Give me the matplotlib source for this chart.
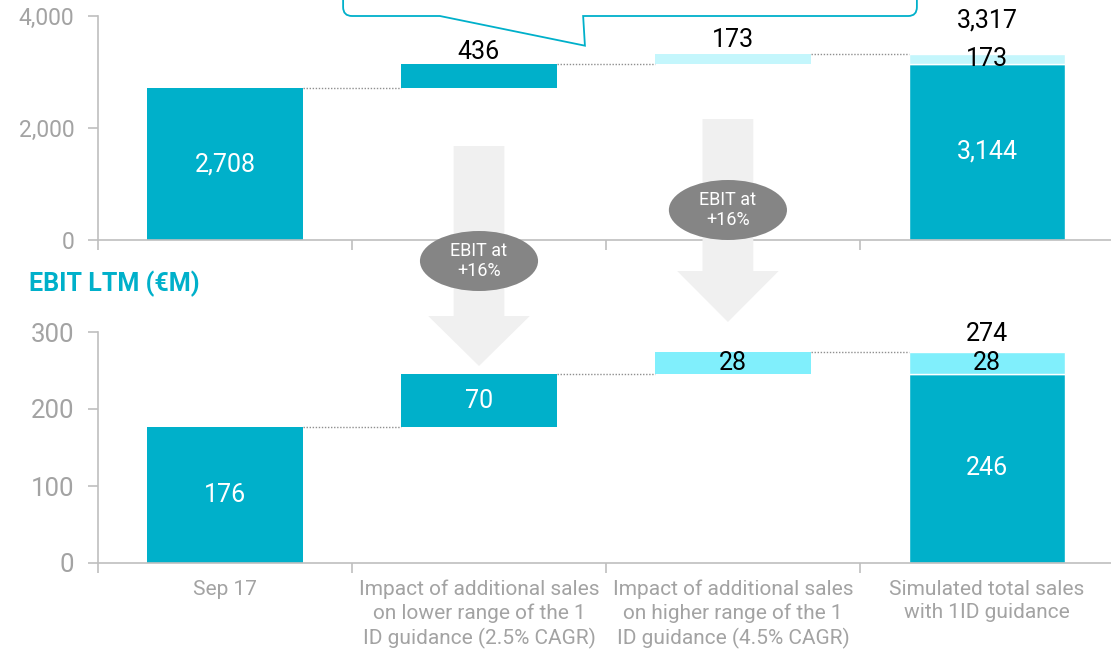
import matplotlib
matplotlib.use('Agg')
import matplotlib.pyplot as plt
from matplotlib.patches import Polygon, Ellipse, PathPatch
from matplotlib.path import Path
from matplotlib.transforms import blended_transform_factory

plt.rcParams['font.family'] = ['Roboto', 'DejaVu Sans']

categories = ['Sep 17',
              'Impact of additional sales\non lower range of the 1\nID guidance (2.5% CAGR)',
              'Impact of additional sales\non higher range of the 1\nID guidance (4.5% CAGR)',
              'Simulated total sales\nwith 1ID guidance']
sales_steps = [2708, 436, 173]
ebit_steps = [176, 70, 28]
sales_ticks = [0, 2000, 4000]
ebit_ticks = [0, 100, 200, 300]
ebit_title = 'EBIT LTM (€M)'
arrow_label = 'EBIT at\n+16%'

TEAL = '#00b0ca'
SALES_LIGHT = '#c4f6fc'
EBIT_LIGHT = '#80effc'
AXIS_GREY = '#bfbfbf'
TEXT_GREY = '#a3a3a3'
BAR_W = 0.614

W, H = 1111, 651
fig = plt.figure(figsize=(W / 100, H / 100), dpi=100)


def px_box(left, top, bottom, right=1114):
    """Axes rectangle from pixel edges (origin top left)."""
    return [left / W, 1 - bottom / H, (right - left) / W, (bottom - top) / H]


def fmt(v):
    return f'{v:,}'


def style_axes(ax, ticks, tick_size):
    ax.set_xlim(-0.5, 3.5)
    ax.set_ylim(ticks[0], ticks[-1])
    for side in ('top', 'right'):
        ax.spines[side].set_visible(False)
    for side in ('left', 'bottom'):
        ax.spines[side].set_color(AXIS_GREY)
        ax.spines[side].set_linewidth(1.2)
    ax.set_yticks(ticks)
    ax.set_yticklabels([fmt(t) for t in ticks])
    ax.tick_params(axis='y', length=7, width=1.2, color=AXIS_GREY,
                   labelcolor=TEXT_GREY, labelsize=tick_size, pad=10)
    ax.set_xticks([-0.5, 0.5, 1.5, 2.5])
    ax.set_xticklabels([])
    ax.tick_params(axis='x', which='major', length=7, width=1.2,
                   color=AXIS_GREY)


def draw_waterfall(ax, steps, light, opts):
    base, low, high = steps
    mid = base + low
    total = mid + high

    ax.bar(0, base, BAR_W, color=TEAL)
    ax.bar(1, low, BAR_W, bottom=base, color=TEAL)
    ax.bar(2, high, BAR_W, bottom=mid, color=light)
    ax.bar(3, mid, BAR_W, color=TEAL, edgecolor='white', linewidth=1)
    ax.bar(3, high, BAR_W, bottom=mid, color=light,
           edgecolor='white', linewidth=1)

    # dotted connectors between bars
    for i, level in enumerate([base, mid, total]):
        ax.plot([i + BAR_W / 2, i + 1 - BAR_W / 2], [level, level],
                ls=(0, (1, 1.2)), color='#8f8f8f', lw=1)

    size = 18
    ax.text(0, base / 2, fmt(base), color='white', ha='center',
            va='center', size=size)
    if opts['low_inside']:
        ax.text(1, base + low / 2, fmt(low), color='white', ha='center',
                va='center', size=size)
    else:
        ax.annotate(fmt(low), (1, mid), xytext=(0, opts['low_off']),
                    textcoords='offset pixels', ha='center', va='center',
                    size=size)
    if opts['high_inside']:
        ax.text(2, mid + high / 2, fmt(high), ha='center', va='center',
                size=size)
    else:
        ax.annotate(fmt(high), (2, total), xytext=(0, opts['high_off']),
                    textcoords='offset pixels', ha='center', va='center',
                    size=size)
    ax.text(3, mid / 2, fmt(mid), color='white', ha='center',
            va='center', size=size)
    ax.text(3, mid + high / 2, fmt(high), ha='center', va='center',
            size=size)
    ax.annotate(fmt(total), (3, total), xytext=(0, opts['total_off']),
                textcoords='offset pixels', ha='center', va='center',
                size=size)


ax_top = fig.add_axes(px_box(98, 16, 240))
ax_bot = fig.add_axes(px_box(98, 332, 563))

style_axes(ax_top, sales_ticks, 16.5)
style_axes(ax_bot, ebit_ticks, 18.5)

draw_waterfall(ax_top, sales_steps, SALES_LIGHT,
               dict(low_inside=False, high_inside=False,
                    low_off=12, high_off=14, total_off=34))
draw_waterfall(ax_bot, ebit_steps, EBIT_LIGHT,
               dict(low_inside=True, high_inside=True, total_off=18))

# category labels on the lower chart only
ax_bot.set_xticks(range(len(categories)), minor=True)
ax_bot.set_xticklabels(categories, minor=True, linespacing=1.28)
ax_bot.tick_params(axis='x', which='minor', length=0, pad=12,
                   labelsize=15, labelcolor=TEXT_GREY)

fig.text(29 / W, 1 - 284 / H, ebit_title, color=TEAL, size=18,
         weight='bold', ha='left', va='center')

# big grey arrows with the EBIT bubbles
trans = blended_transform_factory(ax_bot.transData, fig.transFigure)
for cx, top, head, tip, ey in [(1.0, 146, 316, 366, 261),
                               (1.98, 119, 271, 322, 210)]:
    pts = [(cx - 0.1, top), (cx + 0.1, top), (cx + 0.1, head),
           (cx + 0.2, head), (cx, tip), (cx - 0.2, head),
           (cx - 0.1, head)]
    arrow = Polygon([(x, 1 - y / H) for x, y in pts], closed=True,
                    facecolor='#f0f0f0', edgecolor='none',
                    transform=trans, zorder=2)
    fig.add_artist(arrow)
    bubble = Ellipse((cx, 1 - ey / H), 0.465, 60 / H, facecolor='#858585',
                     edgecolor='none', transform=trans, zorder=3)
    fig.add_artist(bubble)
    fig.text(cx, 1 - ey / H, arrow_label, transform=trans, color='white',
             ha='center', va='center', size=13, linespacing=1.1, zorder=4)

# speech-bubble outline cut off by the top edge
verts = [(0.465, 4800), (0.465, 4160), (0.465, 4000), (0.50, 4000),
         (0.846, 4000), (1.417, 3470), (1.41, 4000), (2.69, 4000),
         (2.724, 4000), (2.724, 4160), (2.724, 4800)]
codes = [Path.MOVETO, Path.LINETO, Path.CURVE3, Path.CURVE3,
         Path.LINETO, Path.LINETO, Path.LINETO, Path.LINETO,
         Path.CURVE3, Path.CURVE3, Path.LINETO]
callout = PathPatch(Path(verts, codes), facecolor='none', edgecolor=TEAL,
                    lw=1.3, clip_on=False, zorder=5)
ax_top.add_patch(callout)

fig.savefig('out.png', dpi=100)
